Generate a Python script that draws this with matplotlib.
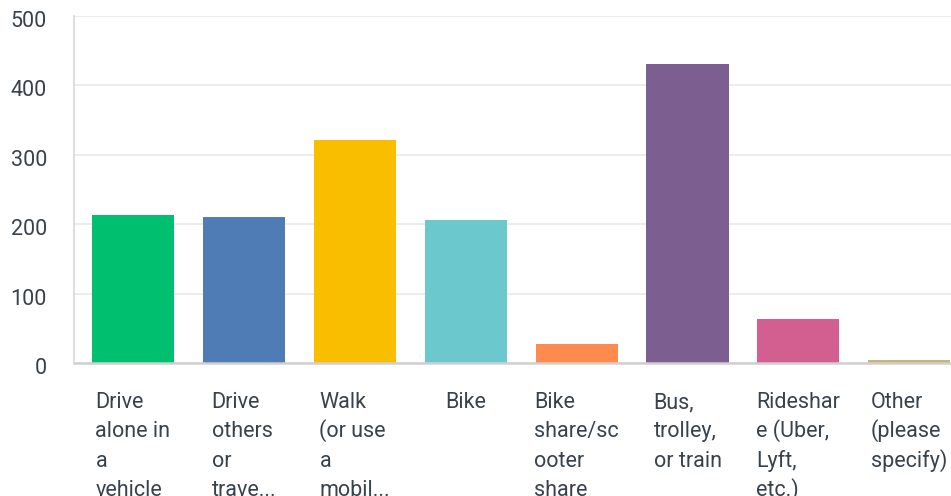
import matplotlib.pyplot as plt
from matplotlib.transforms import ScaledTranslation

categories = [
    "Drive\nalone in\na\nvehicle",
    "Drive\nothers\nor\ntrave...",
    "Walk\n(or use\na\nmobil...",
    "Bike",
    "Bike\nshare/sc\nooter\nshare",
    "Bus,\ntrolley,\nor train",
    "Rideshar\ne (Uber,\nLyft,\netc.)",
    "Other\n(please\nspecify)",
]
values = [213, 210, 321, 206, 27, 431, 63, 4]
colors = ["#00bf6f", "#507cb6", "#f9be00", "#6bc8cd",
          "#ff8b4f", "#7d5e90", "#d25f90", "#c7b773"]
yticks = [0, 100, 200, 300, 400, 500]

text_color = "#38424c"
plt.rcParams['font.family'] = ['Roboto', 'DejaVu Sans']

W, H = 951, 496
fig = plt.figure(figsize=(W / 100, H / 100), dpi=100)
ax = fig.add_axes([74 / W, 133 / H, 877 / W, 347 / H])

x = list(range(len(values)))
ax.bar(x, values, width=0.74, color=colors, zorder=3)

ax.set_xlim(-0.532, 7.376)
ax.set_ylim(0, 500)
ax.set_yticks(yticks)
ax.set_yticklabels([str(v) for v in yticks], fontsize=15.5, color=text_color)
ax.tick_params(axis='y', length=0, pad=19.5)
shift = ScaledTranslation(0, -3 / 100, fig.dpi_scale_trans)
for lbl in ax.get_yticklabels():
    lbl.set_transform(lbl.get_transform() + shift)

ax.set_xticks(x)
ax.set_xticklabels([])
ax.tick_params(axis='x', length=0)

ax.grid(axis='y', color='#ebebeb', linewidth=1.3, zorder=0)
for s in ['top', 'right']:
    ax.spines[s].set_visible(False)
ax.spines['left'].set_color('#d8d8d8')
ax.spines['left'].set_linewidth(1.2)
ax.spines['bottom'].set_color('#d0d0d0')
ax.spines['bottom'].set_linewidth(1.8)
ax.spines['bottom'].set_zorder(4)

# category labels: left-aligned lines, block centred under each bar
fig.canvas.draw()
renderer = fig.canvas.get_renderer()
first_baseline = 408
line_step = 29.3
for xi, lab in zip(x, categories):
    lines = lab.split("\n")
    widths = []
    for line in lines:
        t = fig.text(0, 0, line, fontsize=15.5)
        widths.append(t.get_window_extent(renderer).width)
        t.remove()
    cx = ax.transData.transform((xi, 0))[0]
    left = cx - max(widths) / 2
    for j, line in enumerate(lines):
        ypx = first_baseline + j * line_step
        fig.text(left / W, 1 - ypx / H, line, fontsize=15.5,
                 color=text_color, ha='left', va='baseline')

fig.savefig("out.png", dpi=100)
